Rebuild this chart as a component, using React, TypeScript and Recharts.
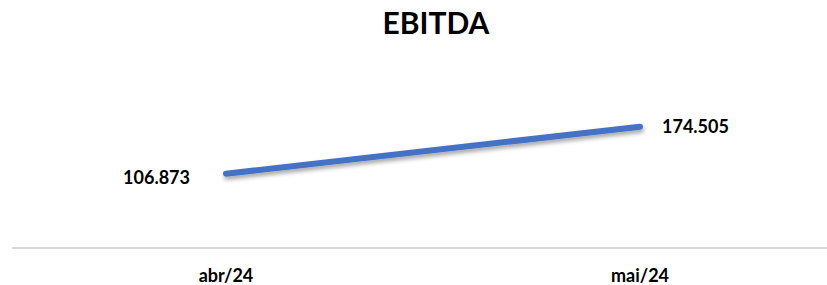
import React from 'react';
import { LineChart, Line, XAxis, YAxis, LabelList } from 'recharts';

const months = ['abr/24', 'mai/24'];
const ebitda = [106.873, 174.505];

const data = months.map((m, i) => ({ month: m, value: ebitda[i] }));

const fmt = (v: number) => v.toFixed(3);

const font = 'Lato, "Open Sans", sans-serif';

// left label sits to the left of the point, right label to the right
const PointLabel = (props: any) => {
    const { x, y, value, index } = props;
    const first = index === 0;
    return (
        <text
            x={first ? x - 36 : x + 22}
            y={first ? y + 6 : y + 2}
            textAnchor={first ? 'end' : 'start'}
            dominantBaseline="middle"
            fontFamily={font}
            fontWeight={700}
            fontSize={18}
            fill="#000"
        >
            {fmt(value)}
        </text>
    );
};

export default function App() {
    return (
        <div style={{ position: 'relative', width: 827, height: 285, background: '#fff' }}>
            <style>{'body{margin:0}'}</style>
            <div
                style={{
                    position: 'absolute',
                    top: 4,
                    left: 0,
                    width: 872,
                    textAlign: 'center',
                    fontFamily: font,
                    fontWeight: 700,
                    fontSize: 30,
                    color: '#000',
                }}
            >
                EBITDA
            </div>
            <LineChart width={827} height={285} data={data} margin={{ top: 109, right: 0, bottom: 7, left: 12 }}>
                <defs>
                    <filter id="lineShadow" x="-10%" y="-50%" width="120%" height="200%">
                        <feDropShadow dx="1" dy="3" stdDeviation="2" floodColor="#000" floodOpacity="0.35" />
                    </filter>
                </defs>
                <YAxis hide domain={[0, 200]} />
                <XAxis
                    dataKey="month"
                    padding={{ left: 214, right: 187 }}
                    tickLine={false}
                    tickSize={0}
                    tickMargin={21}
                    axisLine={{ stroke: '#d9d9d9', strokeWidth: 2 }}
                    tick={{ fill: '#000', fontFamily: font, fontWeight: 700, fontSize: 18 }}
                    interval={0}
                />
                <Line
                    dataKey="value"
                    stroke="#4472C4"
                    strokeWidth={6}
                    strokeLinecap="round"
                    dot={false}
                    activeDot={false}
                    isAnimationActive={false}
                    filter="url(#lineShadow)"
                >
                    <LabelList dataKey="value" content={PointLabel} />
                </Line>
            </LineChart>
        </div>
    );
}
